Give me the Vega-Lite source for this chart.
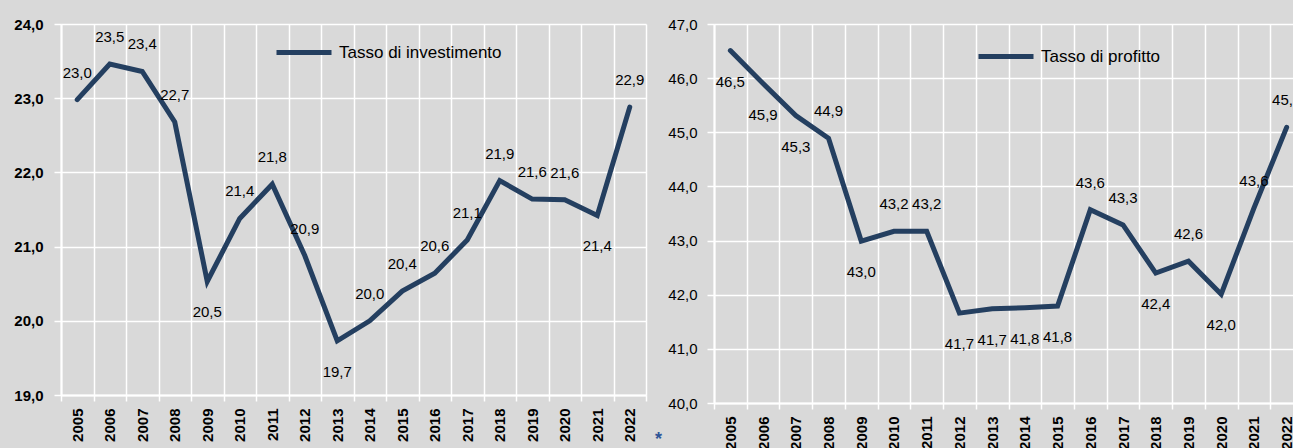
{
  "$schema": "https://vega.github.io/schema/vega-lite/v6.json",
  "background": "#d9d9d9",
  "padding": {"left": 13, "top": 17, "right": 0, "bottom": 0},
  "datasets": {
    "inv": [
      {"year": "2005", "series": "Tasso di investimento", "value": 22.98},
      {"year": "2006", "series": "Tasso di investimento", "value": 23.46},
      {"year": "2007", "series": "Tasso di investimento", "value": 23.36},
      {"year": "2008", "series": "Tasso di investimento", "value": 22.68},
      {"year": "2009", "series": "Tasso di investimento", "value": 20.53},
      {"year": "2010", "series": "Tasso di investimento", "value": 21.38},
      {"year": "2011", "series": "Tasso di investimento", "value": 21.84},
      {"year": "2012", "series": "Tasso di investimento", "value": 20.88},
      {"year": "2013", "series": "Tasso di investimento", "value": 19.73},
      {"year": "2014", "series": "Tasso di investimento", "value": 20.0},
      {"year": "2015", "series": "Tasso di investimento", "value": 20.4},
      {"year": "2016", "series": "Tasso di investimento", "value": 20.64},
      {"year": "2017", "series": "Tasso di investimento", "value": 21.09},
      {"year": "2018", "series": "Tasso di investimento", "value": 21.89},
      {"year": "2019", "series": "Tasso di investimento", "value": 21.64},
      {"year": "2020", "series": "Tasso di investimento", "value": 21.63},
      {"year": "2021", "series": "Tasso di investimento", "value": 21.42},
      {"year": "2022", "series": "Tasso di investimento", "value": 22.88}
    ],
    "prof": [
      {"year": "2005", "series": "Tasso di profitto", "value": 46.51},
      {"year": "2006", "series": "Tasso di profitto", "value": 45.9},
      {"year": "2007", "series": "Tasso di profitto", "value": 45.31},
      {"year": "2008", "series": "Tasso di profitto", "value": 44.89},
      {"year": "2009", "series": "Tasso di profitto", "value": 42.99},
      {"year": "2010", "series": "Tasso di profitto", "value": 43.17},
      {"year": "2011", "series": "Tasso di profitto", "value": 43.17},
      {"year": "2012", "series": "Tasso di profitto", "value": 41.66},
      {"year": "2013", "series": "Tasso di profitto", "value": 41.74},
      {"year": "2014", "series": "Tasso di profitto", "value": 41.76},
      {"year": "2015", "series": "Tasso di profitto", "value": 41.79},
      {"year": "2016", "series": "Tasso di profitto", "value": 43.57},
      {"year": "2017", "series": "Tasso di profitto", "value": 43.29},
      {"year": "2018", "series": "Tasso di profitto", "value": 42.4},
      {"year": "2019", "series": "Tasso di profitto", "value": 42.62},
      {"year": "2020", "series": "Tasso di profitto", "value": 42.01},
      {"year": "2021", "series": "Tasso di profitto", "value": 43.6},
      {"year": "2022", "series": "Tasso di profitto", "value": 45.09}
    ]
  },
  "spacing": 68,
  "bounds": "flush",
  "hconcat": [
    {
      "width": 585,
      "height": 371,
      "data": {"name": "inv"},
      "encoding": {
        "x": {
          "field": "year", "type": "ordinal",
          "scale": {"type": "band", "paddingInner": 0, "paddingOuter": 0},
          "axis": {"title": null, "labelAngle": 270, "labelFontWeight": "bold", "tickBand": "extent", "grid": true, "tickSize": 6, "labelPadding": 7}
        },
        "y": {
          "field": "value", "type": "quantitative",
          "scale": {"domain": [19, 24], "nice": false, "zero": false},
          "axis": {"title": null, "values": [19, 20, 21, 22, 23, 24], "format": ".1f", "labelFontWeight": "bold", "tickSize": 7, "labelPadding": 11}
        }
      },
      "layer": [
        {
          "mark": {"type": "line", "strokeWidth": 5, "strokeCap": "round", "strokeJoin": "miter"},
          "encoding": {
            "color": {
              "field": "series", "type": "nominal",
              "scale": {"range": ["#243f60"]},
              "legend": {"title": null, "orient": "none", "legendX": 213, "legendY": -1.5, "symbolType": "stroke", "symbolSize": 3025, "symbolStrokeWidth": 5, "labelOffset": 5, "padding": 0}
            }
          }
        },
        {
          "transform": [{"filter": {"not": {"field": "year", "oneOf": ["2009", "2013", "2021"]}}}],
          "mark": {"type": "text", "dy": -27, "fontSize": 15, "font": "Liberation Sans", "color": "black"},
          "encoding": {"text": {"field": "value", "type": "quantitative", "format": ".1f"}}
        },
        {
          "transform": [{"filter": {"field": "year", "oneOf": ["2009", "2013", "2021"]}}],
          "mark": {"type": "text", "dy": 31, "fontSize": 15, "font": "Liberation Sans", "color": "black"},
          "encoding": {"text": {"field": "value", "type": "quantitative", "format": ".1f"}}
        }
      ]
    },
    {
      "width": 589,
      "height": 379,
      "data": {"name": "prof"},
      "encoding": {
        "x": {
          "field": "year", "type": "ordinal",
          "scale": {"type": "band", "paddingInner": 0, "paddingOuter": 0},
          "axis": {"title": null, "labelAngle": 270, "labelFontWeight": "bold", "tickBand": "extent", "grid": true, "tickSize": 6, "labelPadding": 7}
        },
        "y": {
          "field": "value", "type": "quantitative",
          "scale": {"domain": [40, 47], "nice": false, "zero": false},
          "axis": {"title": "*", "titleAngle": 0, "titleX": -56, "titleY": 415, "titleColor": "#2f5597", "titleFontSize": 18, "titleFontWeight": "bold", "titleAlign": "center", "titleBaseline": "middle", "values": [40, 41, 42, 43, 44, 45, 46, 47], "format": ".1f", "labelFontWeight": "normal", "tickSize": 7, "labelPadding": 10}
        }
      },
      "layer": [
        {
          "mark": {"type": "line", "strokeWidth": 5, "strokeCap": "round", "strokeJoin": "miter"},
          "encoding": {
            "color": {
              "field": "series", "type": "nominal",
              "scale": {"range": ["#243f60"]},
              "legend": {"title": null, "orient": "none", "legendX": 262, "legendY": 2.5, "symbolType": "stroke", "symbolSize": 3025, "symbolStrokeWidth": 5, "labelOffset": 5, "padding": 0}
            }
          }
        },
        {
          "transform": [{"filter": {"not": {"field": "year", "oneOf": ["2005", "2006", "2007", "2009", "2012", "2013", "2014", "2015", "2018", "2020"]}}}],
          "mark": {"type": "text", "dy": -27, "fontSize": 15, "font": "Liberation Sans", "color": "black"},
          "encoding": {"text": {"field": "value", "type": "quantitative", "format": ".1f"}}
        },
        {
          "transform": [{"filter": {"field": "year", "oneOf": ["2005", "2006", "2007", "2009", "2012", "2013", "2014", "2015", "2018", "2020"]}}],
          "mark": {"type": "text", "dy": 31, "fontSize": 15, "font": "Liberation Sans", "color": "black"},
          "encoding": {"text": {"field": "value", "type": "quantitative", "format": ".1f"}}
        }
      ]
    }
  ],
  "resolve": {"scale": {"color": "independent", "x": "independent", "y": "independent"}, "legend": {"color": "independent"}},
  "config": {
    "locale": {"number": {"decimal": ",", "thousands": ".", "grouping": [3], "currency": ["", " €"]}},
    "font": "Liberation Sans",
    "view": {"stroke": null},
    "axis": {
      "labelFont": "Liberation Sans",
      "labelFontSize": 15,
      "labelColor": "black",
      "gridColor": "white",
      "gridWidth": 1.5,
      "gridOpacity": 1,
      "domainColor": "white",
      "domainWidth": 2,
      "tickColor": "white",
      "tickWidth": 1.5,
      "titleFont": "Liberation Sans"
    },
    "legend": {"labelFont": "Liberation Sans", "labelFontSize": 17, "labelColor": "black", "labelLimit": 400}
  }
}
